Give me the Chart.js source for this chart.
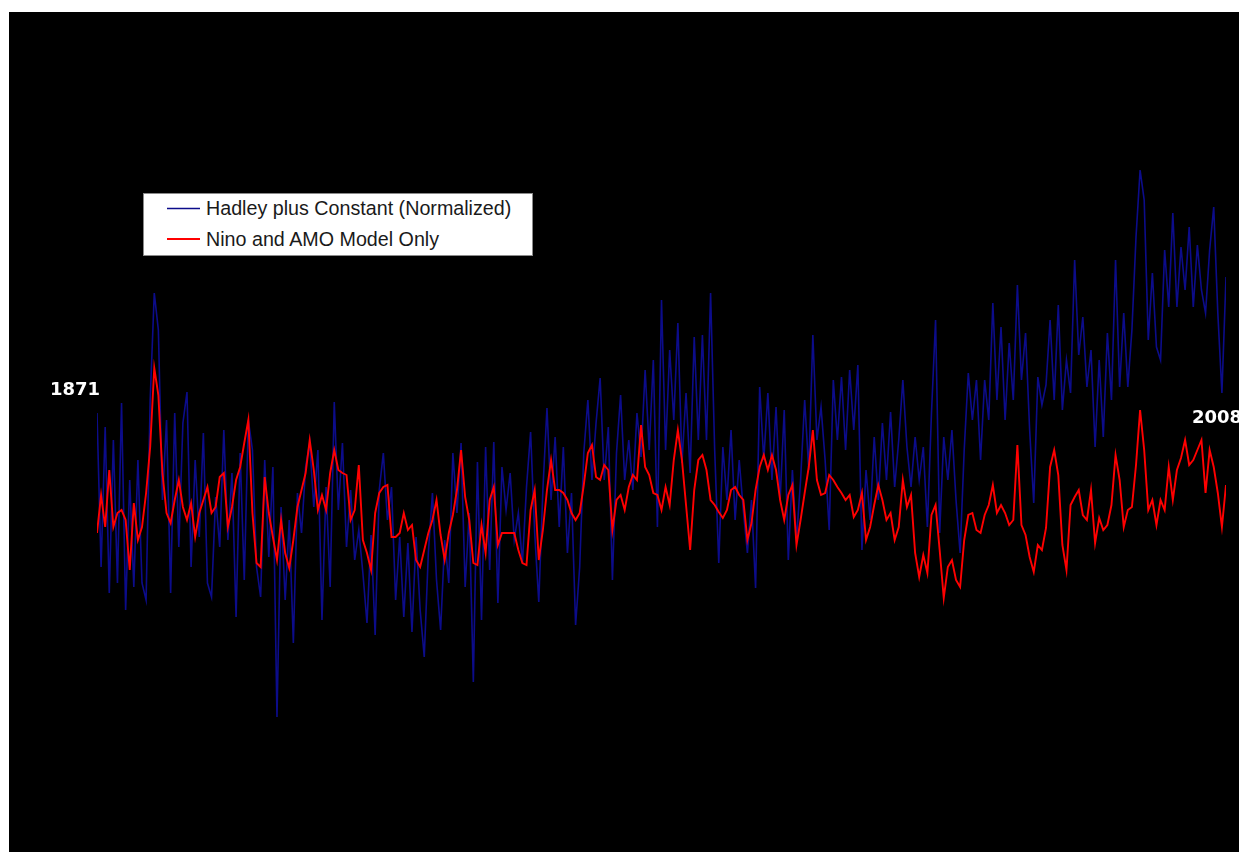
<!DOCTYPE html>
<html>
<head>
<meta charset="utf-8">
<title>Hadley vs Nino and AMO model</title>
<script src="https://cdn.jsdelivr.net/npm/chart.js@4.4.0/dist/chart.umd.min.js"></script>
<style>
  html, body { margin: 0; padding: 0; background: #ffffff; width: 1239px; height: 852px; overflow: hidden; }
  #plot { position: absolute; left: 9px; top: 12px; width: 1230px; height: 840px; background: #000000; }
  #plot canvas { display: block; }
  .yearLabel { position: absolute; font-family: "DejaVu Sans", Verdana, sans-serif; font-weight: bold;
               font-size: 18px; line-height: 20px; color: #ffffff; white-space: nowrap; }
  #legend { position: absolute; left: 143px; top: 193px; width: 390px; height: 63px; box-sizing: border-box;
            background: #ffffff; border: 1px solid #8a8a8a; }
  #legend svg { position: absolute; left: 0; top: 0; }
  #legend .text { position: absolute; left: 62px; font-family: "Liberation Sans", Arial, sans-serif;
                  font-size: 19.7px; line-height: 22px; color: #1a1a1a; white-space: nowrap; }
</style>
</head>
<body>
<div id="plot"><canvas id="chart" width="1230" height="840"></canvas></div>
<div class="yearLabel" id="startLabel" style="left:50px; top:379px;"></div>
<div class="yearLabel" id="endLabel" style="left:1192px; top:407px;"></div>
<div id="legend">
  <svg width="60" height="61" xmlns="http://www.w3.org/2000/svg">
    <line id="sw0" x1="23" y1="14.5" x2="56" y2="14.5" stroke-width="1.4"></line>
    <line id="sw1" x1="23" y1="45" x2="56" y2="45" stroke-width="2"></line>
  </svg>
  <div class="text" id="lt0" style="top:2.5px;"></div>
  <div class="text" id="lt1" style="top:34px;"></div>
</div>
<script>
// Time axis: half-year steps from 1871 to 2009
const startYear = 1871;
const yearStep = 0.5;

// Series names and colours
const seriesNames = ['Hadley plus Constant (Normalized)', 'Nino and AMO Model Only'];
const seriesColors = ['#0c0c8a', '#ff0000'];

// Year labels at both ends of the record
const endLabels = ['1871', '2008'];

// Observed record (normalized), half-year samples
const hadley = [
  0.214,-0.094,0.186,-0.146,0.160,-0.126,0.234,-0.180,0.080,-0.134,
  0.120,-0.126,-0.160,0.240,0.454,0.380,0.040,0.200,-0.146,0.214,
  -0.054,0.194,0.256,-0.094,0.120,-0.034,0.174,-0.126,-0.154,0.046,
  -0.054,0.180,-0.040,0.094,-0.194,0.134,-0.120,0.200,0.140,-0.094,
  -0.154,0.120,-0.074,0.106,-0.394,0.026,-0.160,0.000,-0.246,0.054,
  -0.026,0.106,0.154,0.026,0.140,-0.200,0.066,-0.134,0.236,0.020,
  0.154,-0.054,0.060,-0.080,-0.020,-0.106,-0.206,-0.030,-0.230,0.060,
  0.134,0.000,0.066,-0.160,-0.034,-0.194,-0.046,-0.224,-0.034,-0.180,
  -0.274,-0.066,0.054,-0.120,-0.220,-0.040,-0.126,0.134,0.014,0.154,
  -0.134,0.014,-0.324,0.116,-0.200,0.146,-0.100,0.156,-0.166,0.106,
  0.020,0.094,-0.040,0.014,-0.086,0.066,0.176,-0.026,-0.164,0.060,
  0.224,0.040,0.166,-0.014,0.146,-0.066,0.054,-0.210,-0.094,0.134,
  0.240,0.080,0.194,0.284,0.080,0.186,-0.120,0.134,0.250,0.080,
  0.160,0.060,0.214,0.126,0.300,0.140,0.320,-0.014,0.440,0.140,
  0.340,0.200,0.394,0.114,0.254,0.094,0.366,0.160,0.370,0.160,
  0.454,0.140,-0.086,0.146,0.040,0.180,0.000,0.120,0.020,-0.066,
  0.040,-0.136,0.266,0.120,0.254,0.080,0.226,0.040,0.220,-0.080,
  0.100,-0.040,0.080,0.240,0.100,0.370,0.160,0.226,0.120,-0.020,
  0.280,0.160,0.286,0.140,0.300,0.180,0.310,-0.060,0.100,0.000,
  0.166,0.040,0.194,0.080,0.216,0.066,0.160,0.280,0.146,0.066,
  0.166,0.080,0.146,-0.014,0.214,0.400,-0.026,0.166,0.080,0.180,
  0.040,-0.066,0.140,0.294,0.200,0.280,0.120,0.280,0.200,0.434,
  0.240,0.386,0.200,0.354,0.240,0.470,0.280,0.374,0.180,0.034,
  0.286,0.230,0.270,0.400,0.240,0.430,0.220,0.320,0.254,0.520,
  0.330,0.406,0.266,0.340,0.146,0.320,0.166,0.374,0.240,0.520,
  0.266,0.414,0.266,0.380,0.566,0.700,0.640,0.360,0.494,0.346,
  0.320,0.540,0.426,0.614,0.426,0.546,0.460,0.586,0.426,0.550,
  0.460,0.414,0.540,0.626,0.414,0.254,0.486
];

// Model driven by Nino and AMO indices only
const ninoAmo = [
  -0.026,0.050,-0.014,0.100,-0.014,0.014,0.020,0.000,-0.100,0.034,
  -0.040,-0.014,0.054,0.146,0.304,0.250,0.094,0.014,-0.006,0.040,
  0.080,0.026,0.000,0.034,-0.034,0.014,0.040,0.066,0.014,0.026,
  0.086,0.094,-0.014,0.026,0.080,0.106,0.154,0.200,0.014,-0.086,
  -0.094,0.086,0.014,-0.034,-0.080,0.000,-0.066,-0.096,-0.040,0.026,
  0.060,0.094,0.160,0.100,0.020,0.050,0.020,0.094,0.140,0.100,
  0.094,0.090,0.000,0.020,0.110,-0.040,-0.066,-0.100,0.014,0.054,
  0.066,0.070,-0.034,-0.034,-0.026,0.014,-0.020,-0.010,-0.080,-0.094,
  -0.060,-0.026,0.000,0.040,-0.030,-0.080,-0.026,0.010,0.060,0.140,
  0.046,0.000,-0.086,-0.090,-0.010,-0.066,0.040,0.066,-0.050,-0.026,
  -0.026,-0.026,-0.026,-0.060,-0.086,-0.090,0.020,0.060,-0.080,-0.020,
  0.060,0.120,0.060,0.060,0.054,0.040,0.014,0.000,0.014,0.070,
  0.134,0.150,0.086,0.080,0.110,0.100,-0.020,0.040,0.050,0.020,
  0.066,0.090,0.080,0.190,0.106,0.090,0.054,0.050,0.020,0.066,
  0.030,0.120,0.180,0.120,0.030,-0.060,0.060,0.120,0.130,0.100,
  0.040,0.030,0.016,0.004,0.020,0.060,0.066,0.050,0.040,-0.040,
  -0.006,0.060,0.106,0.130,0.100,0.130,0.100,0.040,0.000,0.050,
  0.070,-0.050,0.000,0.054,0.106,0.180,0.080,0.050,0.054,0.090,
  0.080,0.066,0.054,0.040,0.050,0.006,0.020,0.054,-0.040,-0.014,
  0.030,0.070,0.040,0.000,0.014,-0.040,-0.014,0.080,0.026,0.050,
  -0.066,-0.114,-0.070,-0.106,0.010,0.030,-0.060,-0.156,-0.094,-0.080,
  -0.120,-0.134,-0.040,0.010,0.014,-0.020,-0.026,0.010,0.030,0.070,
  0.014,0.030,0.014,-0.010,0.000,0.150,-0.010,-0.030,-0.074,-0.104,
  -0.050,-0.060,-0.016,0.106,0.140,0.090,-0.050,-0.100,0.030,0.046,
  0.060,0.010,0.000,0.060,-0.046,0.004,-0.020,-0.010,0.030,0.130,
  0.080,-0.014,0.020,0.026,0.110,0.220,0.140,0.020,0.040,-0.010,
  0.040,0.020,0.106,0.040,0.100,0.124,0.160,0.110,0.120,0.140,
  0.160,0.054,0.140,0.106,0.054,-0.014,0.070
];

const years = hadley.map((_, i) => startYear + i * yearStep);
const toPoints = arr => arr.map((v, i) => ({ x: years[i], y: v }));

// Text outside the canvas: end-year labels and legend
document.getElementById('startLabel').textContent = endLabels[0];
document.getElementById('endLabel').textContent = endLabels[1];
seriesNames.forEach((name, i) => {
  document.getElementById('lt' + i).textContent = name;
  document.getElementById('sw' + i).setAttribute('stroke', seriesColors[i]);
});

new Chart(document.getElementById('chart'), {
  type: 'line',
  data: {
    datasets: [
      { label: seriesNames[1], data: toPoints(ninoAmo), borderColor: seriesColors[1],
        borderWidth: 1.9, pointRadius: 0, tension: 0, order: 0 },
      { label: seriesNames[0], data: toPoints(hadley), borderColor: seriesColors[0],
        borderWidth: 1.6, pointRadius: 0, tension: 0, order: 1 }
    ]
  },
  options: {
    responsive: false,
    animation: false,
    events: [],
    layout: { padding: { left: 88, right: 13, top: 0, bottom: 0 } },
    scales: {
      x: { type: 'linear', min: 1871, max: 2009, display: false },
      y: { min: -0.664, max: 1.016, display: false }
    },
    plugins: { legend: { display: false }, tooltip: { enabled: false } }
  }
});
</script>
</body>
</html>
